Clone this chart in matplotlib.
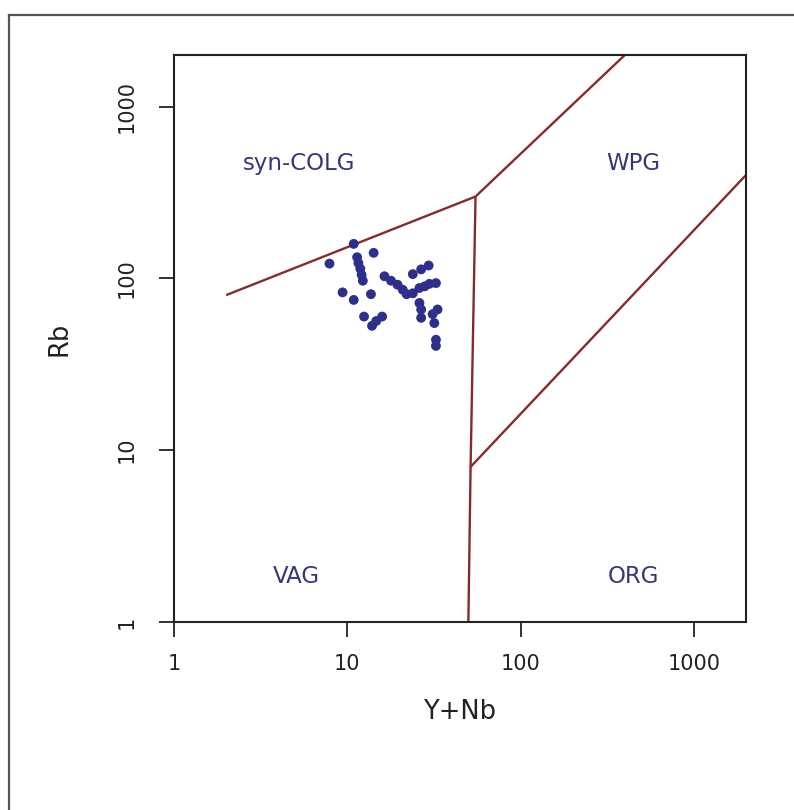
import matplotlib.pyplot as plt
from matplotlib.lines import Line2D

plt.rcParams['font.family'] = ['DejaVu Sans']

# sample analyses: Y+Nb and Rb (ppm)
ynb = [7.9, 10.9, 14.2, 11.4, 11.6, 11.9, 12.1, 12.3, 9.4, 10.9, 13.7, 12.5,
       13.9, 14.7, 15.9, 16.4, 17.9, 19.5, 20.9, 22.0, 23.9, 26.1, 29.8, 32.5,
       23.9, 26.7, 29.5, 26.1, 26.7, 26.7, 33.2, 31.1, 31.8, 32.5, 32.5, 28.0]
rb = [122, 159, 141, 133, 123, 114, 105, 97, 83, 75, 81, 60,
      53, 56.5, 60, 103, 97, 92, 86, 81, 82, 88, 93, 94,
      106, 113, 119, 72, 66, 59, 66, 62, 55, 44, 40.5, 90]

# field boundaries (Pearce et al. 1984)
colg_x, colg_y = [2, 55], [80, 300]
wpg_x, wpg_y = [55, 400], [300, 2000]
vag_x, vag_y = [55, 51.5, 50], [300, 8, 1]
org_x, org_y = [51.5, 2000], [8, 400]

fields = ["syn-COLG", "WPG", "VAG", "ORG"]
field_x = [5.3, 450, 5.1, 450]
field_y = [470, 470, 1.85, 1.85]

ticks = [1, 10, 100, 1000]
tick_labels = ["1", "10", "100", "1000"]

line_col = "#852B2B"
pt_col = "#2E2F8A"
txt_col = "#36367C"

fig = plt.figure(figsize=(7.94, 8.10), dpi=100)
ax = fig.add_axes([0.2191, 0.2321, 0.7204, 0.7])

for xs, ys in [(colg_x, colg_y), (wpg_x, wpg_y), (vag_x, vag_y), (org_x, org_y)]:
    ax.plot(xs, ys, color=line_col, lw=1.7, solid_capstyle='butt')

ax.scatter(ynb, rb, s=50, color=pt_col, edgecolors='none', zorder=3)

for name, fx, fy in zip(fields, field_x, field_y):
    ax.text(fx, fy, name, color=txt_col, fontsize=16.5, ha='center', va='center')

ax.set_xscale('log')
ax.set_yscale('log')
ax.set_xlim(1, 2000)
ax.set_ylim(1, 2000)
ax.minorticks_off()
ax.set_xticks(ticks)
ax.set_xticklabels(tick_labels)
ax.set_yticks(ticks)
ax.set_yticklabels(tick_labels, rotation=90, va='center')
ax.tick_params(length=11, width=1.3, labelsize=15, color='#222222', labelcolor='#222222')
ax.tick_params(axis='x', pad=12)
ax.tick_params(axis='y', pad=16)

for sp in ax.spines.values():
    sp.set_linewidth(1.5)
    sp.set_color('#222222')

ax.set_xlabel("Y+Nb", fontsize=18.5, labelpad=18, color='#222222')
ax.set_ylabel("Rb", fontsize=18.5, labelpad=32, color='#222222')

# frame around the panel
fig.add_artist(Line2D([9 / 794, 1.0], [1 - 15 / 810] * 2, color='#555555', lw=1.6))
fig.add_artist(Line2D([9 / 794] * 2, [0.0, 1 - 15 / 810], color='#555555', lw=1.6))

fig.savefig("out.png", dpi=100, facecolor='white')
